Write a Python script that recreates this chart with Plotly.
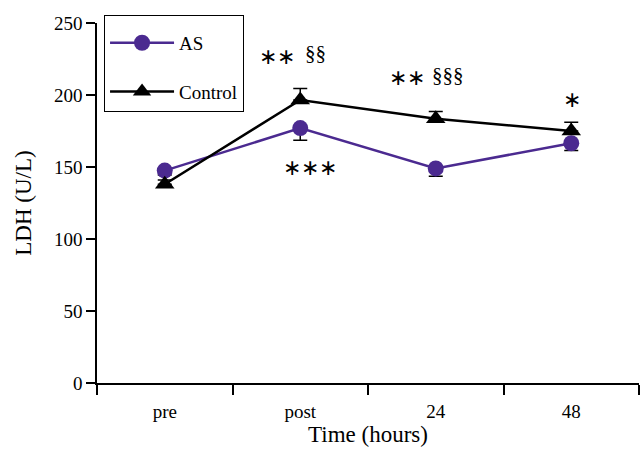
import plotly.graph_objects as go

categories = ["pre", "post", "24", "48"]
as_values = [147.5, 177, 149, 166.5]
as_err_down = [3, 8.5, 5.5, 5]
ctrl_values = [138, 196.5, 183.5, 175]
ctrl_err_up = [3, 8, 5, 6]

purple = "#4b2a90"
font_family = "Liberation Serif, Times New Roman, serif"

fig = go.Figure()
fig.add_trace(go.Scatter(
    x=categories, y=as_values, name="AS", mode="lines+markers",
    line=dict(color=purple, width=2.5),
    marker=dict(symbol="circle", size=16, color=purple),
    error_y=dict(type="data", symmetric=False, array=[0]*4, arrayminus=as_err_down,
                 color="black", thickness=1.5, width=7),
    legendgroup="a",
))
fig.add_trace(go.Scatter(
    x=categories, y=ctrl_values, name="Control", mode="lines+markers",
    line=dict(color="black", width=2.5),
    marker=dict(symbol="triangle-up", size=17, color="black"),
    error_y=dict(type="data", symmetric=False, array=ctrl_err_up, arrayminus=[0]*4,
                 color="black", thickness=1.5, width=7),
    legendgroup="b",
))

ann = [
    ("∗∗", 0.83, 227, 22),
    ("§§", 1.11, 229, 21),
    ("∗∗∗", 1.07, 150, 22),
    ("∗∗", 1.79, 212, 22),
    ("§§§", 2.09, 214, 21),
    ("∗", 3.005, 197, 22),
]
for t, x, y, s in ann:
    fig.add_annotation(x=x, y=y, xref="x", yref="y", text=t, showarrow=False,
                       font=dict(family=font_family, size=s, color="black"))

fig.update_layout(
    width=640, height=455,
    margin=dict(l=97, r=1, t=23, b=72),
    paper_bgcolor="white", plot_bgcolor="white",
    font=dict(family=font_family, size=19, color="black"),
    showlegend=True,
    legend=dict(x=0.013, y=1.022, xanchor="left", yanchor="top",
                bordercolor="black", borderwidth=1, bgcolor="white",
                font=dict(family=font_family, size=19),
                title=dict(text=" ", font=dict(size=6)),
                itemwidth=64,
                tracegroupgap=21, traceorder="grouped"),
)
fig.update_xaxes(
    type="category", range=[-0.5, 3.5],
    showline=True, linecolor="black", linewidth=1.5,
    ticks="outside", tickson="boundaries", ticklen=10, tickwidth=1.5, tickcolor="black",
    showgrid=False, zeroline=False,
    tickfont=dict(size=19, family=font_family), ticklabelstandoff=10,
    title=dict(text="Time (hours)", font=dict(size=23, family=font_family), standoff=5),
)
fig.update_yaxes(
    range=[0, 250], tickvals=[0, 50, 100, 150, 200, 250],
    showline=True, linecolor="black", linewidth=1.5,
    ticks="outside", ticklen=9, tickwidth=1.5, tickcolor="black",
    showgrid=False, zeroline=False,
    tickfont=dict(size=19, family=font_family),
    title=dict(text="LDH (U/L)", font=dict(size=23, family=font_family), standoff=16),
)

fig.write_html("out.html")
